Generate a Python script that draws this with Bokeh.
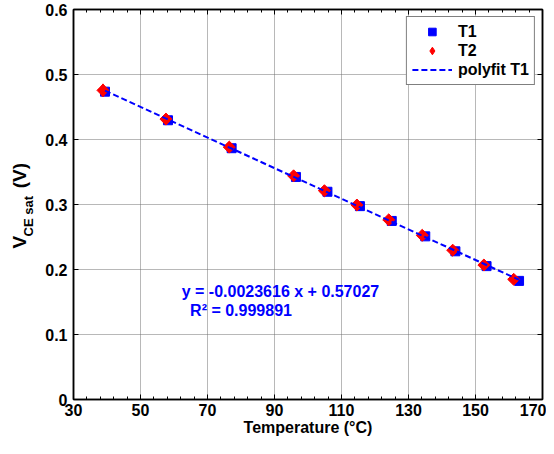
import numpy as np
from bokeh.plotting import figure
from bokeh.models import (LinearAxis, FixedTicker, Label, Legend, LegendItem, Range1d, Title)
from bokeh.embed import file_html
from bokeh.resources import INLINE

# ---- data ----
x_T1 = [39.4, 58.2, 77.2, 96.4, 105.8, 115.5, 125.0, 135.0, 144.0, 153.3, 163.0]
y_T1 = [0.4736, 0.4296, 0.3866, 0.3424, 0.3196, 0.2975, 0.2747, 0.2510, 0.2280, 0.2052, 0.1825]
x_T2 = [38.8, 57.6, 76.5, 95.7, 104.9, 114.6, 124.1, 134.1, 143.2, 152.5, 161.4]
y_T2 = [0.4756, 0.4314, 0.3883, 0.3441, 0.3212, 0.2992, 0.2764, 0.2526, 0.2297, 0.2069, 0.1849]
x_ticks = [30, 50, 70, 90, 110, 130, 150, 170]
y_ticks = [0, 0.1, 0.2, 0.3, 0.4, 0.5, 0.6]
y_tick_labels = ["0", "0.1", "0.2", "0.3", "0.4", "0.5", "0.6"]
legend_labels = ["T1", "T2", "polyfit T1"]
eq_text = "y = -0.0023616 x + 0.57027"
r2_text = "R\u00b2 = 0.999891"
x_label = "Temperature (\u00b0C)"
y_label_main = "V"
y_label_sub = "CE sat"
y_label_unit = "(V)"

FONT = "Liberation Sans"
H = 438
BOTTOM = 38

# polyfit of T1
coef = np.polyfit(x_T1, y_T1, 1)
fit_x = [min(x_T1), max(x_T1)]
fit_y = [coef[0] * v + coef[1] for v in fit_x]

p = figure(width=546, height=H, x_range=Range1d(30, 170), y_range=Range1d(0, 0.6),
           output_backend="svg", toolbar_location=None,
           min_border_left=73, min_border_right=4, min_border_top=9, min_border_bottom=BOTTOM,
           x_axis_location=None, y_axis_location=None)
p.background_fill_color = "white"
p.border_fill_color = "white"
p.outline_line_color = "black"
p.outline_line_width = 1.5

minor_x = [v for v in np.arange(30, 170.01, 4).tolist() if v not in x_ticks]
xt = FixedTicker(ticks=x_ticks, minor_ticks=minor_x)
yt = FixedTicker(ticks=y_ticks, minor_ticks=[])

def style_axis(ax, labels=True):
    ax.axis_line_color = "black"
    ax.axis_line_width = 1.5
    ax.major_tick_in = 5
    ax.major_tick_out = 0
    ax.minor_tick_in = 3
    ax.minor_tick_out = 0
    ax.major_tick_line_color = "black"
    ax.minor_tick_line_color = "black"
    ax.major_label_text_font = FONT
    ax.major_label_text_font_style = "bold"
    ax.major_label_text_color = "black"
    if labels:
        ax.major_label_text_font_size = "16px"
    else:
        ax.major_label_text_font_size = "0px"
        ax.major_label_standoff = 0
        ax.axis_label_standoff = 0

bx = LinearAxis(ticker=xt)
style_axis(bx)
bx.major_label_standoff = 4
bx.axis_label = x_label
bx.axis_label_text_font = FONT
bx.axis_label_text_font_style = "bold"
bx.axis_label_text_font_size = "16px"
bx.axis_label_text_color = "black"
bx.axis_label_standoff = 0
p.add_layout(bx, "below")

tx = LinearAxis(ticker=xt)
style_axis(tx, labels=False)
p.add_layout(tx, "above")

ly = LinearAxis(ticker=yt, major_label_overrides={t: l for t, l in zip(y_ticks, y_tick_labels)})
style_axis(ly)
ly.minor_tick_in = 0
ly.major_label_standoff = 6
p.add_layout(ly, "left")

ry = LinearAxis(ticker=yt)
style_axis(ry, labels=False)
ry.minor_tick_in = 0
p.add_layout(ry, "right")

# y-axis title with subscript, built from side-panel titles
frame_bottom = H - BOTTOM
p.add_layout(Title(text=y_label_sub, align="left", offset=frame_bottom - 237,
                   text_font=FONT, text_font_style="bold", text_font_size="13px",
                   text_color="black", standoff=13), "left")
p.add_layout(Title(text=y_label_main + "\u00a0" * 9 + y_label_unit, align="left",
                   offset=frame_bottom - 249,
                   text_font=FONT, text_font_style="bold", text_font_size="19px",
                   text_color="black", standoff=-34), "left")

p.xgrid.ticker = xt
p.ygrid.ticker = yt
for g in (p.xgrid, p.ygrid):
    g.grid_line_color = "#707070"
    g.grid_line_dash = "1 1"
    g.grid_line_width = 1

r1 = p.scatter(x_T1, y_T1, marker="square", size=9, fill_color="#0000ff",
               line_color="#0000ff")
# legend proxy (diamond) hidden under the first T2 marker
r2_leg = p.scatter(x_T2[:1], y_T2[:1], marker="diamond", size=13, fill_color="#ff0000",
                   line_color="#ff0000", line_width=1)
r2 = p.scatter(x_T2, y_T2, marker="square", angle=np.pi / 4, size=8.5,
               fill_color="#ff0000", line_color="#ff0000", line_width=1)
r3 = p.line(fit_x, fit_y, line_color="#0000ff", line_width=2, line_dash="6 3")

legend = Legend(items=[LegendItem(label=legend_labels[0], renderers=[r1]),
                       LegendItem(label=legend_labels[1], renderers=[r2_leg]),
                       LegendItem(label=legend_labels[2], renderers=[r3])],
                location="top_right")
legend.label_text_font = FONT
legend.label_text_font_style = "bold"
legend.label_text_font_size = "16px"
legend.label_text_color = "black"
legend.border_line_color = "black"
legend.border_line_width = 1
legend.background_fill_color = "white"
legend.background_fill_alpha = 1
legend.glyph_width = 40
legend.glyph_height = 19
legend.label_height = 19
legend.padding = 5
legend.spacing = 0
legend.margin = 7
legend.label_standoff = 6
p.add_layout(legend)

p.add_layout(Label(x=62.3, y=0.166, text=eq_text, text_color="#0000ff",
                   text_font=FONT, text_font_style="bold", text_font_size="16px",
                   text_baseline="middle"))
p.add_layout(Label(x=64.8, y=0.137, text=r2_text, text_color="#0000ff",
                   text_font=FONT, text_font_style="bold", text_font_size="16px",
                   text_baseline="middle"))

open("out.html", "w").write(file_html(p, INLINE))
